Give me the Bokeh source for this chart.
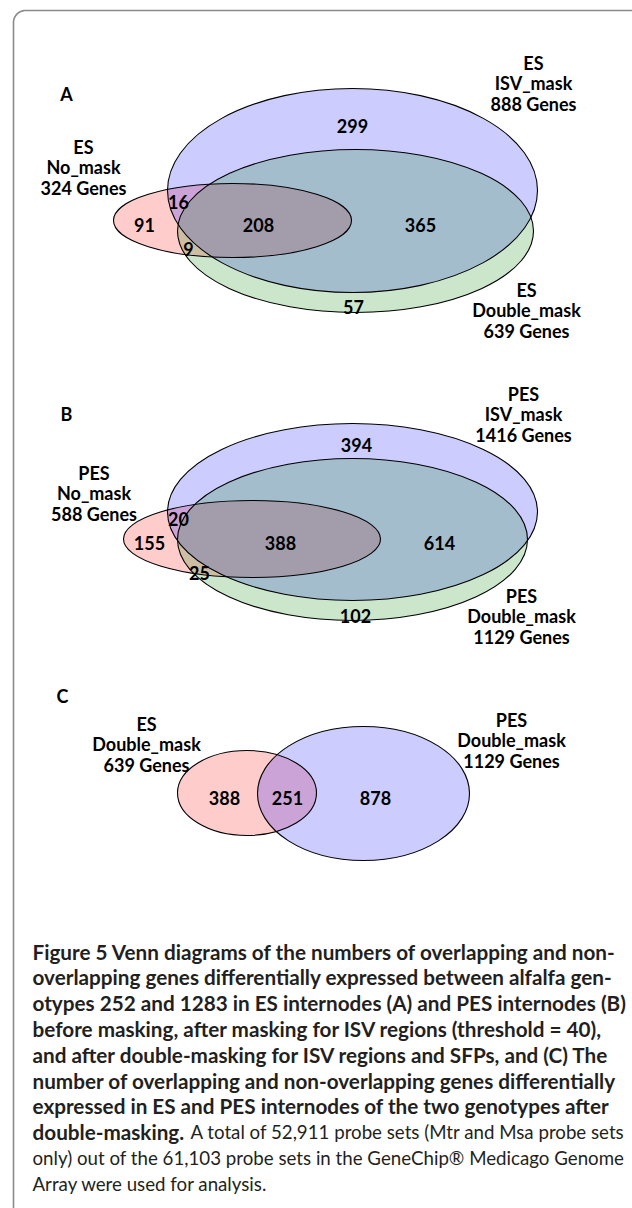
import numpy as np
from bokeh.plotting import figure
from bokeh.models import Range1d
from bokeh.core.properties import value
from bokeh.embed import file_html
from bokeh.resources import INLINE

# ---------------- data ----------------
panel_letters = ["A", "B", "C"]

A_set_labels = ["ES\nISV_mask\n888 Genes", "ES\nNo_mask\n324 Genes", "ES\nDouble_mask\n639 Genes"]
A_region_counts = [299, 16, 91, 208, 365, 9, 57]

B_set_labels = ["PES\nISV_mask\n1416 Genes", "PES\nNo_mask\n588 Genes", "PES\nDouble_mask\n1129 Genes"]
B_region_counts = [394, 20, 155, 388, 614, 25, 102]

C_set_labels = ["ES\nDouble_mask\n639 Genes", "PES\nDouble_mask\n1129 Genes"]
C_region_counts = [388, 251, 878]

caption_bold_lines = [
    "Figure 5 Venn diagrams of the numbers of overlapping and non-",
    "overlapping genes differentially expressed between alfalfa gen-",
    "otypes 252 and 1283 in ES internodes (A) and PES internodes (B)",
    "before masking, after masking for ISV regions (threshold = 40),",
    "and after double-masking for ISV regions and SFPs, and (C) The",
    "number of overlapping and non-overlapping genes differentially",
    "expressed in ES and PES internodes of the two genotypes after",
    "double-masking.",
]
caption_regular_lines = [
    "A total of 52,911 probe sets (Mtr and Msa probe sets",
    "only) out of the 61,103 probe sets in the GeneChip\u00ae Medicago Genome",
    "Array were used for analysis.",
]

# ---------------- layout (screen pixel coordinates) ----------------
W, H = 632, 1208
p = figure(width=W, height=H, output_backend="svg", toolbar_location=None,
           x_axis_location=None, y_axis_location=None,
           x_range=Range1d(0, W), y_range=Range1d(H, 0),
           min_border=0, outline_line_color=None, background_fill_color="white")
p.grid.visible = False

BLUE, GREEN, RED = "#0000FF", "#008000", "#FF0000"
FILL_ALPHA = 0.2
FONT = value("Lato")
VFS = "18px"

# frame (rounded corner, top-left)
ang = np.linspace(np.pi, 1.5 * np.pi, 20)
fx = np.concatenate([[13], 25 + 12 * np.cos(ang), [700]])
fy = np.concatenate([[1300], 22 + 12 * np.sin(ang), [10]])
p.line(fx, fy, line_color="#8a8a8a", line_width=1.6)

# ellipse geometry per panel: (cx, cy, w, h, colour) -- drawn in list order
panels = [
    dict(letter_xy=(66, 93),
         ellipses=[(232, 220, 238, 74, RED), (352, 190, 370, 204, BLUE), (355, 230.5, 356, 163, GREEN)],
         labels=A_set_labels, label_xy=[(533, 83), (83, 167), (526, 310)],
         counts=A_region_counts,
         count_xy=[(352, 125), (178, 201), (144, 224), (258, 224), (420, 224), (188, 248), (353, 306)]),
    dict(letter_xy=(66, 413),
         ellipses=[(251.5, 538.5, 257, 77, RED), (352, 511.5, 370, 177, BLUE), (352, 539, 350, 162, GREEN)],
         labels=B_set_labels, label_xy=[(523, 414), (93.5, 493), (521, 616)],
         counts=B_region_counts,
         count_xy=[(356, 444), (178, 518), (149, 542), (280, 542), (439, 542), (199, 572), (355, 615)]),
    dict(letter_xy=(62, 695),
         ellipses=[(246.5, 792.5, 139, 85, RED), (363, 793, 212, 134, BLUE)],
         labels=C_set_labels, label_xy=[(146, 744), (511, 740)],
         counts=C_region_counts,
         count_xy=[(224, 797), (287, 797), (375, 797)]),
]

for letter, pan in zip(panel_letters, panels):
    ex = [e[0] for e in pan["ellipses"]]
    ey = [e[1] for e in pan["ellipses"]]
    ew = [e[2] for e in pan["ellipses"]]
    eh = [e[3] for e in pan["ellipses"]]
    ec = [e[4] for e in pan["ellipses"]]
    for i in range(len(ex)):
        p.ellipse(x=[ex[i]], y=[ey[i]], width=[ew[i]], height=[eh[i]], fill_color=ec[i],
                  fill_alpha=FILL_ALPHA, line_color=None)
    p.ellipse(x=ex, y=ey, width=ew, height=eh, fill_color=None,
              line_color="black", line_width=1.1)
    p.text(x=[pan["letter_xy"][0]], y=[pan["letter_xy"][1]], text=[letter],
           text_font=FONT, text_font_style="bold", text_font_size=VFS,
           text_align="center", text_baseline="middle", text_color="black")
    p.text(x=[xy[0] for xy in pan["label_xy"]], y=[xy[1] for xy in pan["label_xy"]],
           text=pan["labels"], text_font=FONT, text_font_style="bold",
           text_font_size=VFS, text_align="center", text_baseline="middle",
           text_line_height=0.95, text_color="black")
    p.text(x=[xy[0] for xy in pan["count_xy"]], y=[xy[1] for xy in pan["count_xy"]],
           text=[str(c) for c in pan["counts"]], text_font=FONT, text_font_style="bold",
           text_font_size=VFS, text_align="center", text_baseline="middle",
           text_color="black")

# caption
cap_x, cap_y0, cap_dy = 32, 951, 25.8
nb = len(caption_bold_lines)
p.text(x=[cap_x] * nb, y=[cap_y0 + i * cap_dy for i in range(nb)], text=caption_bold_lines,
       text_font=FONT, text_font_style="bold", text_font_size="20.7px",
       text_align="left", text_baseline="middle", text_color="#231f20")
reg_x = [190, cap_x, cap_x]
reg_y = [cap_y0 + (nb - 1 + i) * cap_dy for i in range(len(caption_regular_lines))]
p.text(x=reg_x, y=reg_y, text=caption_regular_lines,
       text_font=FONT, text_font_style="normal", text_font_size="18.7px",
       text_align="left", text_baseline="middle", text_color="#231f20")

open("out.html", "w").write(file_html(p, INLINE))
